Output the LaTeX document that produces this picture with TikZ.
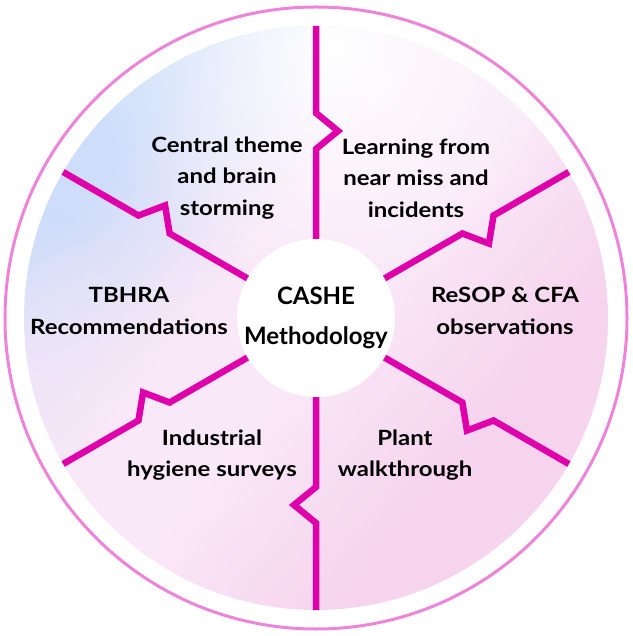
\documentclass[tikz,border=0pt]{standalone}
\usepackage{fontspec}
\setmainfont{Lato}
\usetikzlibrary{positioning,fadings}

\definecolor{spokepink}{RGB}{222,0,170}
\definecolor{rimpink}{RGB}{238,132,218}
\definecolor{skyblue}{RGB}{205,221,250}
\definecolor{palepink}{RGB}{249,232,247}
\definecolor{blushpink}{RGB}{246,212,238}

\pgfdeclarehorizontalshading{diskshade}{100bp}{color(0bp)=(skyblue); color(28bp)=(skyblue);
  color(42bp)=(palepink); color(52bp)=(palepink); color(67bp)=(blushpink); color(100bp)=(blushpink)}
\tikzfading[name=glow, inner color=transparent!0, outer color=transparent!100]

\tikzset{
  spoke/.style={draw=spokepink, line width=6.5pt},
  theme/.style={align=center, inner sep=0pt,
    font=\bfseries\fontsize{21}{31.5}\selectfont\addfontfeatures{FakeStretch=1.14}},
  hub/.style={circle, fill=white, minimum size=158pt, inner sep=0pt, align=center,
    font=\bfseries\fontsize{24}{40}\selectfont}
}

\begin{document}
\begin{tikzpicture}[x=1pt, y=1pt]
    \useasboundingbox (-316,-318) rectangle (316,318);

    % Outer ring and shaded disk
    \draw[rimpink, line width=3pt] (0,0) circle (311);
    \shade[shading=diskshade, shading angle=-40] (0,0) circle (292);
    \begin{scope}
      \clip (0,0) circle (292);
      \fill[white, path fading=glow] (20,270) circle (250);
      \fill[palepink, path fading=glow, opacity=0.6] (-300,-60) circle (170);
    \end{scope}

    % Define nodes
    \node[hub]		(hub)		at (0,0)		{CASHE\\Methodology};
    \node[theme]		(brainstorm)		at (-89,140)		{Central theme\\and brain\\storming};
    \node[theme]		(nearmiss)		at (100,140)		{Learning from\\near miss and\\incidents};
    \node[theme]		(tbhra)		at (-187,7)		{TBHRA\\Recommendations};
    \node[theme]		(resop)		at (189,7)		{ReSOP \& CFA\\observations};
    \node[theme]		(hygiene)		at (-104,-137)		{Industrial\\hygiene surveys};
    \node[theme]		(walkthrough)		at (89,-137)		{Plant\\walkthrough};

    % Connect nodes
    \foreach \a in {30,90,...,330} {
      \coordinate (rim-\a) at (\a:292);
      \draw[spoke, rotate=\a] (hub.\a) -- (169,0) -- (187,-22) -- (205,0) -- (rim-\a);
    }
\end{tikzpicture}
\end{document}
